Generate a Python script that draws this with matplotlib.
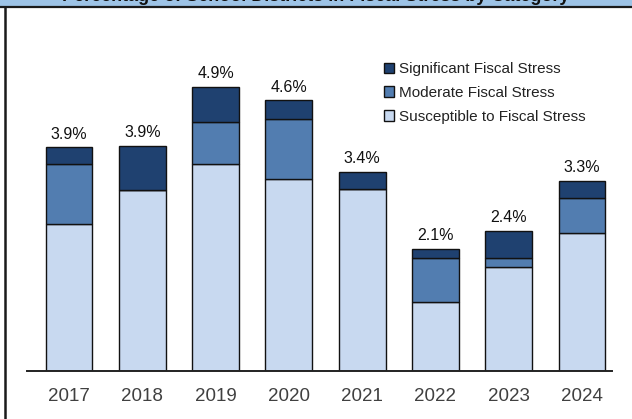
import matplotlib
matplotlib.use("Agg")
import matplotlib.pyplot as plt
import numpy as np
from matplotlib.patches import Rectangle

plt.rcParams["font.family"] = ["Liberation Sans", "DejaVu Sans"]

# data (percent of districts)
years = ["2017", "2018", "2019", "2020", "2021", "2022", "2023", "2024"]
susceptible = [2.54, 3.14, 3.58, 3.32, 3.15, 1.19, 1.80, 2.39]
moderate = [1.04, 0.00, 0.73, 1.04, 0.00, 0.76, 0.16, 0.61]
significant = [0.29, 0.75, 0.60, 0.32, 0.29, 0.16, 0.46, 0.29]
total_labels = ["3.9%", "3.9%", "4.9%", "4.6%", "3.4%", "2.1%", "2.4%", "3.3%"]

series_names = ["Susceptible to Fiscal Stress", "Moderate Fiscal Stress",
                "Significant Fiscal Stress"]
colors = ["#C8D9F0", "#527DB0", "#1F4170"]

W, H = 632, 419
fig = plt.figure(figsize=(W / 100, H / 100), dpi=100)

# title band, cropped at the top edge like the reference
fig.patches.append(Rectangle((0, 1 - 7 / H), 1, 7 / H, transform=fig.transFigure,
                             facecolor="#9DC3E6", edgecolor="none", zorder=0))
fig.add_artist(plt.Line2D([0, 1], [1 - 7.5 / H, 1 - 7.5 / H], transform=fig.transFigure,
                          color="#1a1a1a", lw=1.6))
fig.add_artist(plt.Line2D([4.5 / W, 4.5 / W], [0, 1 - 7.5 / H], transform=fig.transFigure,
                          color="#1a1a1a", lw=1.8))
fig.text(0.5, 1 - 1.0 / H, "Percentage of School Districts in Fiscal Stress by Category",
         ha="center", va="baseline", fontsize=13, fontweight="bold", color="#111111")

# axes placed in pixel terms
px_per_unit = 57.8
ax_left, ax_right, ax_base = 27, 612, 371
ymax = 5.6
ax_top = ax_base - ymax * px_per_unit
ax = fig.add_axes([ax_left / W, (H - ax_base) / H, (ax_right - ax_left) / W,
                   (ax_base - ax_top) / H])

x = np.arange(len(years))
width = 0.64
bottom = np.zeros(len(years))
handles = []
for vals, name, c in zip([susceptible, moderate, significant], series_names, colors):
    vals = np.array(vals)
    b = ax.bar(x, vals, width, bottom=bottom, color=c, edgecolor="#111111",
               linewidth=1.0, label=name, zorder=2)
    handles.append(b)
    bottom = bottom + vals

for xi, top, lab in zip(x, bottom, total_labels):
    ax.text(xi, top + 0.1, lab, ha="center", va="bottom", fontsize=11.5, color="#111111")

ax.set_xlim(-0.573, 7.41)
ax.set_ylim(0, ymax)
ax.set_yticks([])
ax.set_xticks(x)
ax.set_xticklabels(years, fontsize=13.5, color="#404040")
ax.tick_params(axis="x", length=0, pad=12)
for side in ["top", "right", "left"]:
    ax.spines[side].set_visible(False)
ax.spines["bottom"].set_color("#222222")
ax.spines["bottom"].set_linewidth(1.4)

leg = ax.legend(handles[::-1], series_names[::-1], loc="upper left",
                bbox_to_anchor=(357 / (ax_right - ax_left), 1 - (62 - ax_top) / (ax_base - ax_top)),
                frameon=False, fontsize=11, handlelength=0.65, handleheight=0.65,
                handletextpad=0.3, labelspacing=0.65, borderaxespad=0, borderpad=0)
for t in leg.get_texts():
    t.set_color("#222222")

fig.savefig("out.png", dpi=100)
